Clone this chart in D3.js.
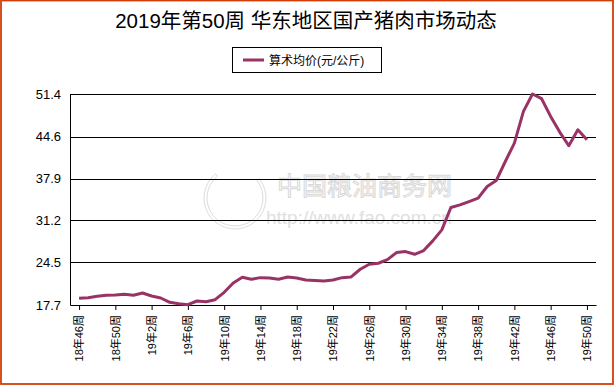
<!DOCTYPE html>
<html>
<head>
<meta charset="utf-8">
<script src="https://cdn.jsdelivr.net/npm/d3@7"></script>
<style>
  body { margin: 0; background: #fff; }
  svg { display: block; font-family: "Liberation Sans", Arial, "Noto Sans CJK SC", sans-serif; }
</style>
</head>
<body>
<div id="chart"></div>
<script>

// weekly labels 18年46周 .. 19年50周
var weeks = [];
for (var w = 46; w <= 52; w++) weeks.push("18年" + w + "周");
for (var w = 1; w <= 50; w++) weeks.push("19年" + w + "周");

// arithmetic average price (yuan / kg)
var prices = [
  18.77, 18.87, 19.09, 19.25, 19.30, 19.41, 19.25, 19.62, 19.14, 18.82,
  18.13, 17.91, 17.75, 18.34, 18.23, 18.55, 19.73, 21.22, 22.13, 21.81,
  22.07, 22.02, 21.81, 22.18, 22.02, 21.70, 21.62, 21.54, 21.70, 22.07,
  22.18, 23.41, 24.20, 24.37, 24.95, 26.07, 26.23, 25.80, 26.39, 27.94,
  29.70, 33.27, 33.70, 34.22, 34.77, 36.62, 37.58, 40.62, 43.56, 48.62,
  51.40, 50.65, 47.82, 45.32, 43.13, 45.69, 44.09
];

var yTicks = [17.7, 24.5, 31.2, 37.9, 44.6, 51.4];
var title = "2019年第50周 华东地区国产猪肉市场动态";
var seriesName = "算术均价(元/公斤)";

// set the dimensions and margins of the graph
var W = 615, H = 385;
var margin = { top: 94, right: 19, bottom: 80, left: 70 };
var width = W - margin.left - margin.right;
var height = H - margin.top - margin.bottom;

var svg = d3.select("#chart")
  .append("svg")
  .attr("width", W)
  .attr("height", H);

// outer border
svg.append("rect")
  .attr("x", 1).attr("y", 0.5)
  .attr("width", 612).attr("height", 383.5)
  .attr("fill", "none")
  .attr("stroke", "#d33d08")
  .attr("stroke-width", 1.8);

// title
svg.append("text")
  .attr("x", 306)
  .attr("y", 28)
  .attr("text-anchor", "middle")
  .style("font-size", "20.5px")
  .text(title);

// legend
var legend = svg.append("g");
legend.append("rect")
  .attr("x", 232.5).attr("y", 47.5)
  .attr("width", 149).attr("height", 25)
  .attr("fill", "none").attr("stroke", "#000");
legend.append("line")
  .attr("x1", 243).attr("x2", 264)
  .attr("y1", 60).attr("y2", 60)
  .attr("stroke", "#993366").attr("stroke-width", 3);
legend.append("text")
  .attr("x", 269).attr("y", 64.5)
  .style("font-size", "12px")
  .text(seriesName);

var g = svg.append("g")
  .attr("transform", "translate(" + margin.left + "," + margin.top + ")");

// watermark
var wm = g.append("g").attr("pointer-events", "none");
wm.append("path")
  .attr("d", d3.arc()({ innerRadius: 28, outerRadius: 31, startAngle: 0.9, endAngle: 5.6 }))
  .attr("transform", "translate(165,104)")
  .attr("fill", "none").attr("stroke", "#dcdcdc");
wm.append("text")
  .attr("x", 207).attr("y", 101)
  .style("font-size", "25px")
  .style("font-family", "Noto Sans CJK SC")
  .attr("fill", "#fff").attr("stroke", "#d8d8d8").attr("stroke-width", 1)
  .text("中国粮油商务网");
wm.append("text")
  .attr("x", 196).attr("y", 130)
  .style("font-size", "19px")
  .attr("fill", "#e0e0e0")
  .text("http://www.fao.com.cn");

// scales
var x = d3.scalePoint()
  .domain(weeks)
  .range([0, width])
  .padding(1);

var y = d3.scaleLinear()
  .domain([17.7, 51.4])
  .range([height, 0]);

// grid lines
g.selectAll(".grid")
  .data(yTicks.slice(1))
  .enter()
  .append("line")
  .attr("class", "grid")
  .attr("x1", 0).attr("x2", width)
  .attr("y1", function (d) { return Math.round(y(d)) + 0.5; })
  .attr("y2", function (d) { return Math.round(y(d)) + 0.5; })
  .attr("stroke", "#000");

// Y axis
var yAxis = d3.axisLeft(y)
  .tickValues(yTicks)
  .tickFormat(d3.format(".1f"))
  .tickSize(0)
  .tickPadding(9);
var gy = g.append("g").call(yAxis);
gy.select(".domain").attr("stroke", "#000");
gy.selectAll("text").style("font-size", "13px").attr("fill", "#000");

// X axis
var labelled = weeks.filter(function (d, i) { return i % 4 === 0; });
var xAxis = d3.axisBottom(x)
  .tickValues(labelled)
  .tickSize(5)
  .tickSizeOuter(0);
var gx = g.append("g")
  .attr("transform", "translate(0," + height + ")")
  .call(xAxis);
gx.select(".domain").attr("stroke", "#000");
gx.selectAll(".tick line").attr("stroke", "#000");
gx.selectAll("text")
  .style("font-size", "11px")
  .style("font-family", "Liberation Sans, Noto Sans CJK SC")
  .attr("fill", "#000")
  .attr("text-anchor", "end")
  .attr("dy", "0.35em")
  .attr("transform", "translate(0,10) rotate(-90)")
  .attr("x", 0).attr("y", 0);

// the price line
var line = d3.line()
  .x(function (d, i) { return x(weeks[i]); })
  .y(function (d) { return y(d); });

g.append("path")
  .datum(prices)
  .attr("fill", "none")
  .attr("stroke", "#993366")
  .attr("stroke-width", 3)
  .attr("stroke-linejoin", "round")
  .attr("d", line);

</script>
</body>
</html>
